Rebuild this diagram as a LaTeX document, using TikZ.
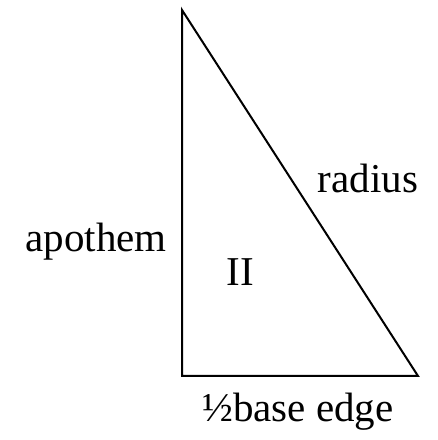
\documentclass[tikz,border=0pt]{standalone}
\usepackage{fontspec}
\setmainfont{Liberation Serif}
\begin{document}
\begin{tikzpicture}[x=1pt,y=1pt,
  edge/.style={line width=2pt,line join=miter},
  lbl/.style={inner sep=0pt,font=\fontsize{41}{48}\selectfont}]
\useasboundingbox (0,0) rectangle (438,440);
\coordinate (T) at (182,430);
\coordinate (BL) at (182,64);
\coordinate (BR) at (418,64);
\draw[edge] (T) -- (BL) -- (BR) -- cycle;
\node[lbl] (ap) at (96,198) {apothem};
\node[lbl] (ra) at (368,262) {radius};
\node[lbl] (ii) at (240,168) {II};
\node[lbl] (be) at (298,28) {½base edge};
\end{tikzpicture}
\end{document}
